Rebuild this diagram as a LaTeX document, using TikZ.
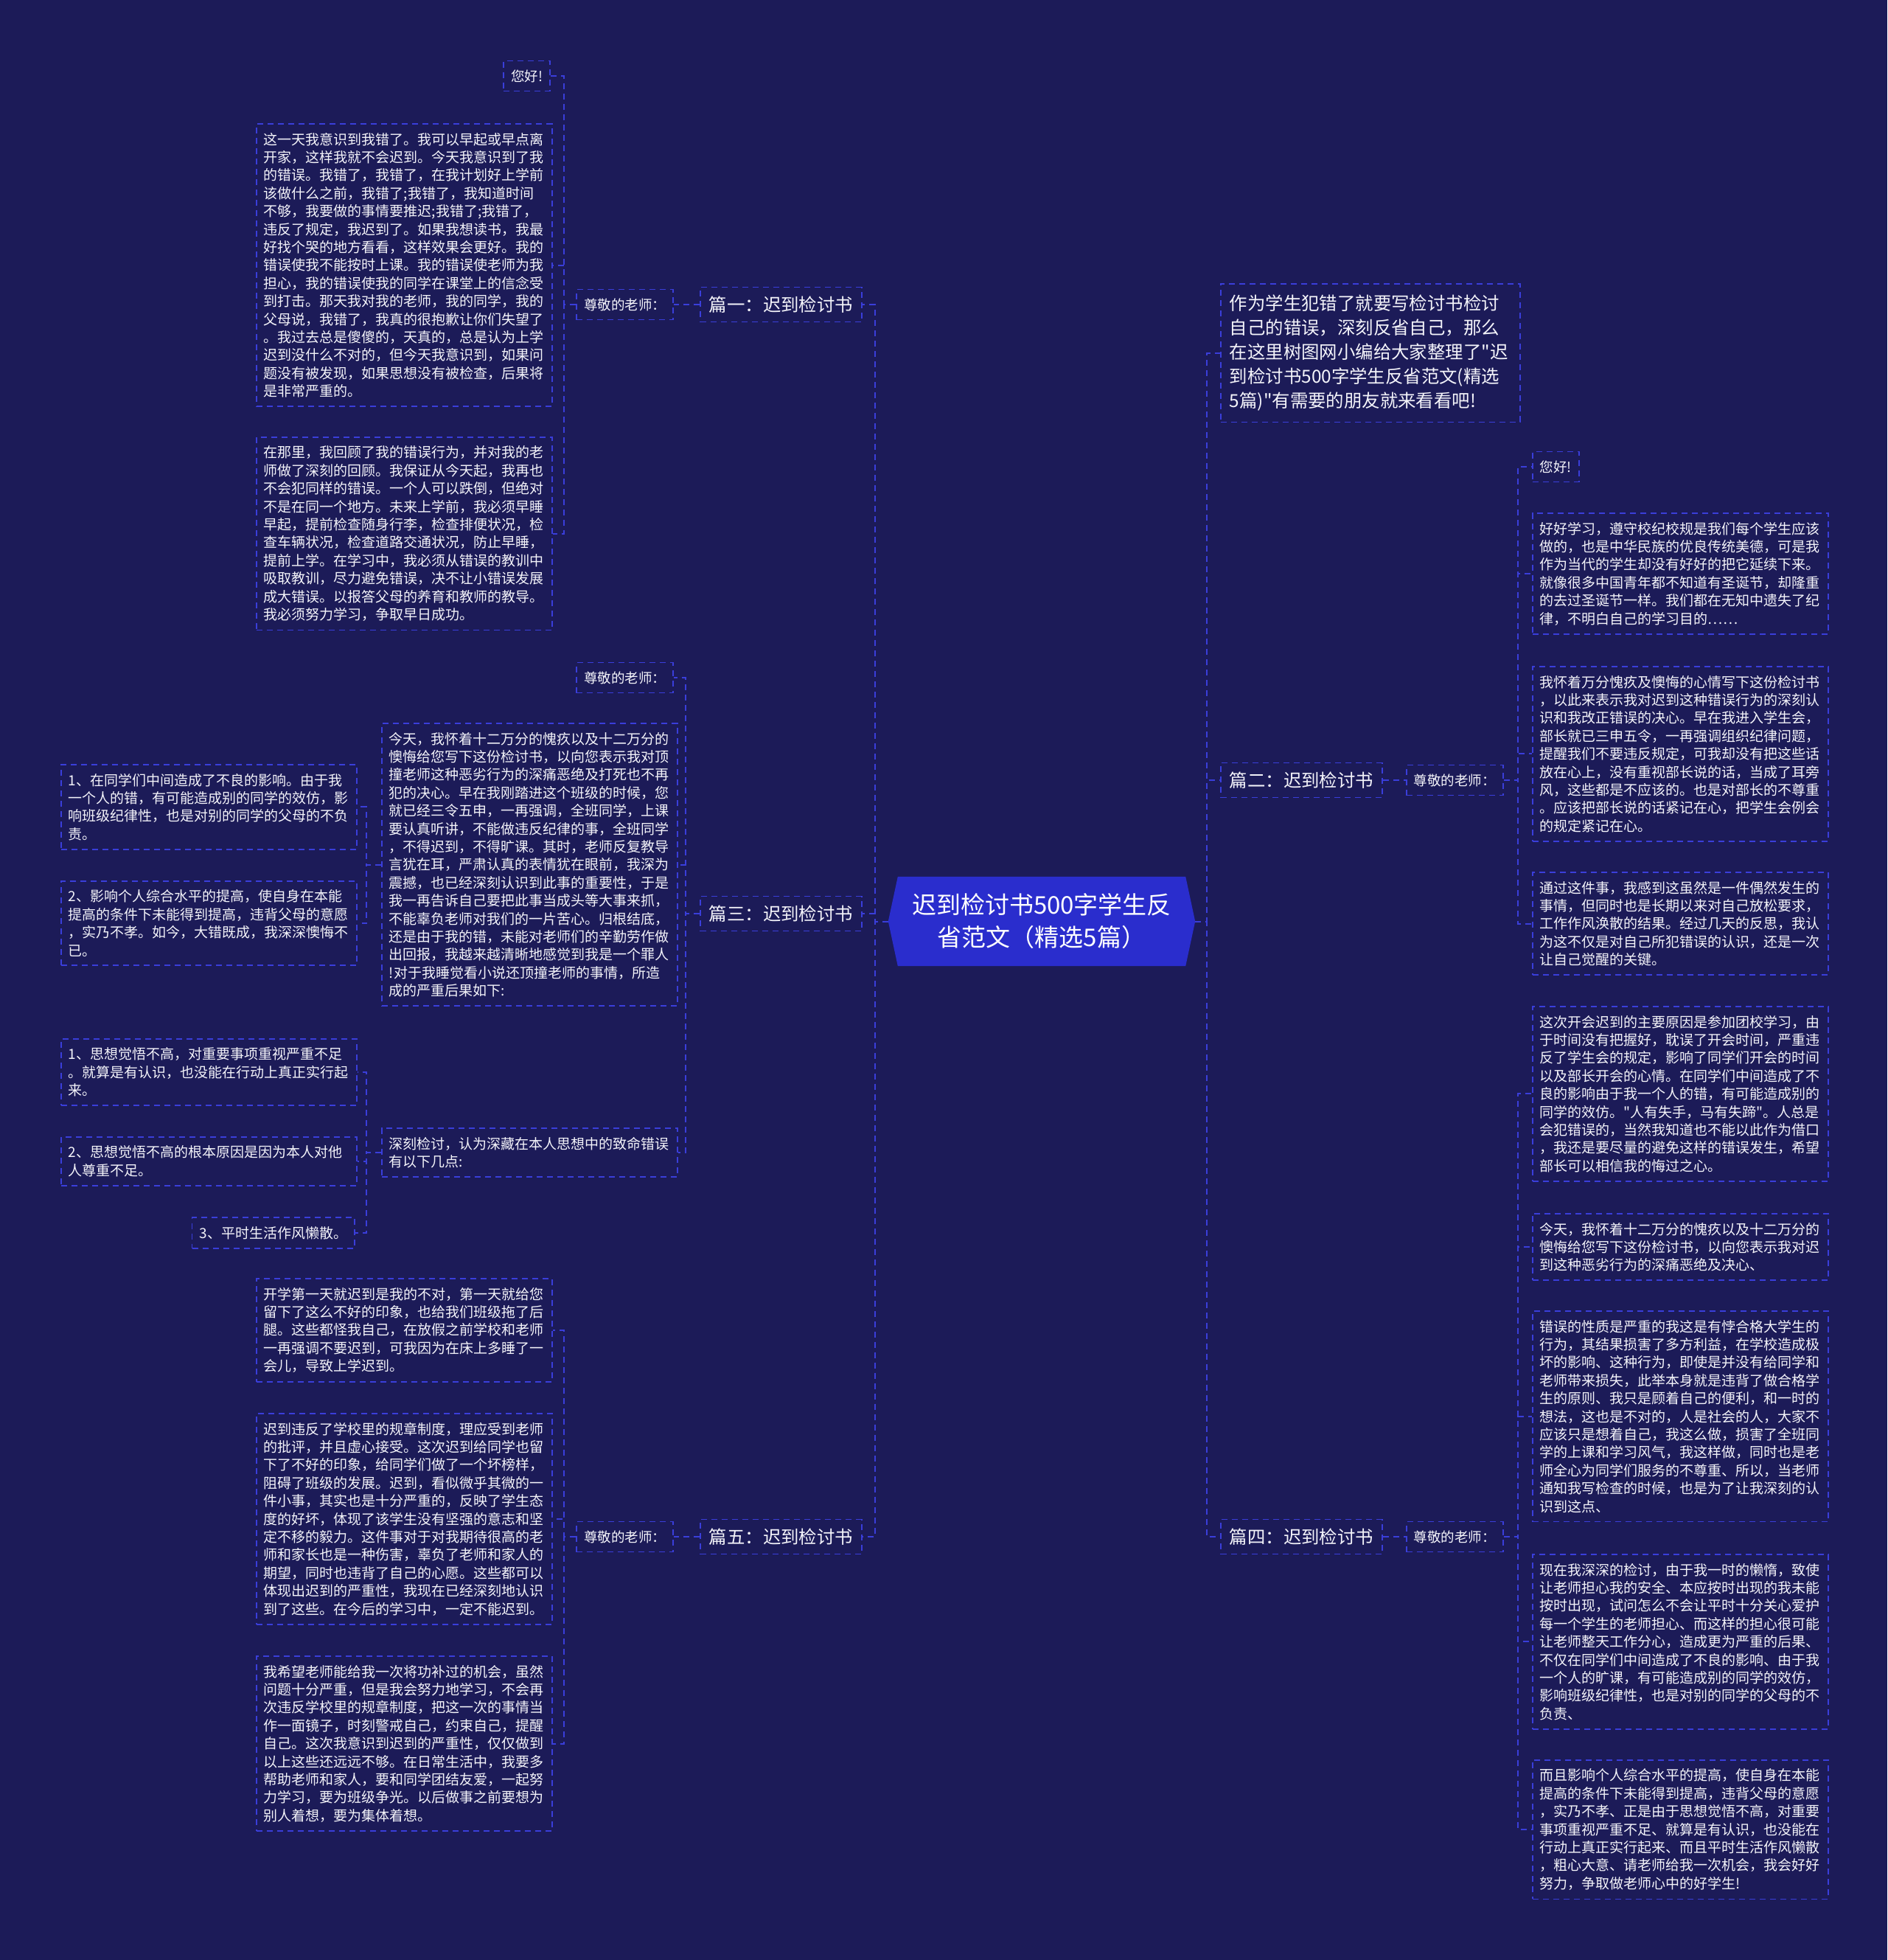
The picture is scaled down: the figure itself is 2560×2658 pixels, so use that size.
\documentclass[tikz,border=0pt]{standalone}
\usepackage{fontspec}
\newfontfamily\cjk{Noto Sans CJK SC}
\definecolor{bgc}{RGB}{28,27,88}
\definecolor{lb}{RGB}{58,62,218}
\definecolor{tx}{RGB}{244,244,250}
\definecolor{hexc}{RGB}{42,45,205}
\pgfdeclarelayer{back}
\pgfsetlayers{back,main}
\tikzset{
 conn/.style={draw=lb, line width=2pt, dash pattern=on 8pt off 6pt},
 box/.style={draw=lb, line width=1.8pt, dash pattern=on 8pt off 6pt, text=tx},
 para/.style={box, font=\cjk\fontsize{19pt}{24.4pt}\selectfont, text width=381pt, align=left, inner xsep=10pt, inner ysep=12pt, anchor=north west},
 lab/.style={box, font=\cjk\fontsize{18.5pt}{22pt}\selectfont, inner xsep=10pt, minimum height=41pt},
 lvl/.style={box, font=\cjk\fontsize{24.4pt}{30pt}\selectfont, minimum width=219pt, minimum height=47pt, inner xsep=12pt},
 intro/.style={box, font=\cjk\fontsize{24.4pt}{33pt}\selectfont, text width=382pt, align=left, inner xsep=12pt, inner ysep=15pt, anchor=north west},
 hub/.style={text=white, font=\cjk\fontsize{33pt}{44pt}\selectfont, align=center, minimum width=416pt, minimum height=121pt, inner sep=0pt},
}
\begin{document}
\begin{tikzpicture}[x=1pt,y=-1pt]
\begin{pgfonlayer}{back}
\fill[bgc] (0,0) rectangle (2560,2658);
\end{pgfonlayer}
\useasboundingbox (0,0) rectangle (2560,2658);

% centre
\node[hub] (c) at (1413,1249.5) {迟到检讨书500字学生反\\省范文（精选5篇）};
\begin{pgfonlayer}{back}
\fill[hexc] (c.west) -- ([xshift=13pt]c.north west) -- ([xshift=-13pt]c.north east) -- (c.east) -- ([xshift=-13pt]c.south east) -- ([xshift=13pt]c.south west) -- cycle;
\end{pgfonlayer}

% level 1
\node[lvl, anchor=east] (p1) at (1170,413) {篇一：迟到检讨书};
\node[lvl, anchor=east] (p3) at (1170,1239) {篇三：迟到检讨书};
\node[lvl, anchor=east] (p5) at (1170,2084) {篇五：迟到检讨书};
\node[lvl, anchor=west] (p2) at (1655,1058) {篇二：迟到检讨书};
\node[lvl, anchor=west] (p4) at (1655,2084) {篇四：迟到检讨书};
\node[intro] (in) at (1655,384) {作为学生犯错了就要写检讨书检讨\\自己的错误，深刻反省自己，那么\\在这里树图网小编给大家整理了"迟\\到检讨书500字学生反省范文(精选\\5篇)"有需要的朋友就来看看吧!};

% level 2 labels
\node[lab, anchor=east] (t1) at (914,413) {尊敬的老师：};
\node[lab, anchor=east] (t3) at (914,919) {尊敬的老师：};
\node[lab, anchor=east] (t5) at (914,2084) {尊敬的老师：};
\node[lab, anchor=west] (t2) at (1907,1058) {尊敬的老师：};
\node[lab, anchor=west] (t4) at (1907,2084) {尊敬的老师：};

% 篇一 children
\node[lab, anchor=east] (a1) at (747,103) {您好!};
\node[para] (a2) at (347,167) {这一天我意识到我错了。我可以早起或早点离\\开家，这样我就不会迟到。今天我意识到了我\\的错误。我错了，我错了，在我计划好上学前\\该做什么之前，我错了;我错了，我知道时间\\不够，我要做的事情要推迟;我错了;我错了，\\违反了规定，我迟到了。如果我想读书，我最\\好找个哭的地方看看，这样效果会更好。我的\\错误使我不能按时上课。我的错误使老师为我\\担心，我的错误使我的同学在课堂上的信念受\\到打击。那天我对我的老师，我的同学，我的\\父母说，我错了，我真的很抱歉让你们失望了\\。我过去总是傻傻的，天真的，总是认为上学\\迟到没什么不对的，但今天我意识到，如果问\\题没有被发现，如果思想没有被检查，后果将\\是非常严重的。};
\node[para] (a3) at (347,592) {在那里，我回顾了我的错误行为，并对我的老\\师做了深刻的回顾。我保证从今天起，我再也\\不会犯同样的错误。一个人可以跌倒，但绝对\\不是在同一个地方。未来上学前，我必须早睡\\早起，提前检查随身行李，检查排便状况，检\\查车辆状况，检查道路交通状况，防止早睡，\\提前上学。在学习中，我必须从错误的教训中\\吸取教训，尽力避免错误，决不让小错误发展\\成大错误。以报答父母的养育和教师的教导。\\我必须努力学习，争取早日成功。};

% 篇三 children
\node[para] (bp) at (517,980) {今天，我怀着十二万分的愧疚以及十二万分的\\懊悔给您写下这份检讨书，以向您表示我对顶\\撞老师这种恶劣行为的深痛恶绝及打死也不再\\犯的决心。早在我刚踏进这个班级的时候，您\\就已经三令五申，一再强调，全班同学，上课\\要认真听讲，不能做违反纪律的事，全班同学\\，不得迟到，不得旷课。其时，老师反复教导\\言犹在耳，严肃认真的表情犹在眼前，我深为\\震撼，也已经深刻认识到此事的重要性，于是\\我一再告诉自己要把此事当成头等大事来抓，\\不能辜负老师对我们的一片苦心。归根结底，\\还是由于我的错，未能对老师们的辛勤劳作做\\出回报，我越来越清晰地感觉到我是一个罪人\\!对于我睡觉看小说还顶撞老师的事情，所造\\成的严重后果如下:};
\node[para] (bd) at (517,1529) {深刻检讨，认为深藏在本人思想中的致命错误\\有以下几点:};
\node[para] (b1) at (82,1036) {1、在同学们中间造成了不良的影响。由于我\\一个人的错，有可能造成别的同学的效仿，影\\响班级纪律性，也是对别的同学的父母的不负\\责。};
\node[para] (b2) at (82,1194) {2、影响个人综合水平的提高，使自身在本能\\提高的条件下未能得到提高，违背父母的意愿\\，实乃不孝。如今，大错既成，我深深懊悔不\\已。};
\node[para] (b3) at (82,1408) {1、思想觉悟不高，对重要事项重视严重不足\\。就算是有认识，也没能在行动上真正实行起\\来。};
\node[para] (b4) at (82,1541) {2、思想觉悟不高的根本原因是因为本人对他\\人尊重不足。};
\node[para, text width=, anchor=east] (b5) at (482,1672) {3、平时生活作风懒散。};

% 篇五 children
\node[para] (e1) at (347,1733) {开学第一天就迟到是我的不对，第一天就给您\\留下了这么不好的印象，也给我们班级拖了后\\腿。这些都怪我自己，在放假之前学校和老师\\一再强调不要迟到，可我因为在床上多睡了一\\会儿，导致上学迟到。};
\node[para] (e2) at (347,1916) {迟到违反了学校里的规章制度，理应受到老师\\的批评，并且虚心接受。这次迟到给同学也留\\下了不好的印象，给同学们做了一个坏榜样，\\阻碍了班级的发展。迟到，看似微乎其微的一\\件小事，其实也是十分严重的，反映了学生态\\度的好坏，体现了该学生没有坚强的意志和坚\\定不移的毅力。这件事对于对我期待很高的老\\师和家长也是一种伤害，辜负了老师和家人的\\期望，同时也违背了自己的心愿。这些都可以\\体现出迟到的严重性，我现在已经深刻地认识\\到了这些。在今后的学习中，一定不能迟到。};
\node[para] (e3) at (347,2245) {我希望老师能给我一次将功补过的机会，虽然\\问题十分严重，但是我会努力地学习，不会再\\次违反学校里的规章制度，把这一次的事情当\\作一面镜子，时刻警戒自己，约束自己，提醒\\自己。这次我意识到迟到的严重性，仅仅做到\\以上这些还远远不够。在日常生活中，我要多\\帮助老师和家人，要和同学团结友爱，一起努\\力学习，要为班级争光。以后做事之前要想为\\别人着想，要为集体着想。};

% 篇二 children
\node[lab, anchor=west] (r0) at (2078,633) {您好!};
\node[para] (r1) at (2078,695) {好好学习，遵守校纪校规是我们每个学生应该\\做的，也是中华民族的优良传统美德，可是我\\作为当代的学生却没有好好的把它延续下来。\\就像很多中国青年都不知道有圣诞节，却隆重\\的去过圣诞节一样。我们都在无知中遗失了纪\\律，不明白自己的学习目的……};
\node[para] (r2) at (2078,903) {我怀着万分愧疚及懊悔的心情写下这份检讨书\\，以此来表示我对迟到这种错误行为的深刻认\\识和我改正错误的决心。早在我进入学生会，\\部长就已三申五令，一再强调组织纪律问题，\\提醒我们不要违反规定，可我却没有把这些话\\放在心上，没有重视部长说的话，当成了耳旁\\风，这些都是不应该的。也是对部长的不尊重\\。应该把部长说的话紧记在心，把学生会例会\\的规定紧记在心。};
\node[para] (r3) at (2078,1182) {通过这件事，我感到这虽然是一件偶然发生的\\事情，但同时也是长期以来对自己放松要求，\\工作作风涣散的结果。经过几天的反思，我认\\为这不仅是对自己所犯错误的认识，还是一次\\让自己觉醒的关键。};

% 篇四 children
\node[para] (s1) at (2078,1364) {这次开会迟到的主要原因是参加团校学习，由\\于时间没有把握好，耽误了开会时间，严重违\\反了学生会的规定，影响了同学们开会的时间\\以及部长开会的心情。在同学们中间造成了不\\良的影响由于我一个人的错，有可能造成别的\\同学的效仿。"人有失手，马有失蹄"。人总是\\会犯错误的，当然我知道也不能以此作为借口\\，我还是要尽量的避免这样的错误发生，希望\\部长可以相信我的悔过之心。};
\node[para] (s2) at (2078,1645) {今天，我怀着十二万分的愧疚以及十二万分的\\懊悔给您写下这份检讨书，以向您表示我对迟\\到这种恶劣行为的深痛恶绝及决心、};
\node[para] (s3) at (2078,1777) {错误的性质是严重的我这是有悖合格大学生的\\行为，其结果损害了多方利益，在学校造成极\\坏的影响、这种行为，即使是并没有给同学和\\老师带来损失，此举本身就是违背了做合格学\\生的原则、我只是顾着自己的便利，和一时的\\想法，这也是不对的，人是社会的人，大家不\\应该只是想着自己，我这么做，损害了全班同\\学的上课和学习风气，我这样做，同时也是老\\师全心为同学们服务的不尊重、所以，当老师\\通知我写检查的时候，也是为了让我深刻的认\\识到这点、};
\node[para] (s4) at (2078,2107) {现在我深深的检讨，由于我一时的懒惰，致使\\让老师担心我的安全、本应按时出现的我未能\\按时出现，试问怎么不会让平时十分关心爱护\\每一个学生的老师担心、而这样的担心很可能\\让老师整天工作分心，造成更为严重的后果、\\不仅在同学们中间造成了不良的影响、由于我\\一个人的旷课，有可能造成别的同学的效仿，\\影响班级纪律性，也是对别的同学的父母的不\\负责、};
\node[para] (s5) at (2078,2386) {而且影响个人综合水平的提高，使自身在本能\\提高的条件下未能得到提高，违背父母的意愿\\，实乃不孝、正是由于思想觉悟不高，对重要\\事项重视严重不足、就算是有认识，也没能在\\行动上真正实行起来、而且平时生活作风懒散\\，粗心大意、请老师给我一次机会，我会好好\\努力，争取做老师心中的好学生!};

% connectors: centre
\foreach \n in {p1,p3,p5} \draw[conn] (c.west) -- ++(-18,0) |- (\n.east);
\foreach \n in {in,p2,p4} \draw[conn] (c.east) -- ++(16,0) |- (\n.west);
% level 1 -> level 2
\draw[conn] (p1.west) -- (t1.east);
\draw[conn] (p5.west) -- (t5.east);
\draw[conn] (p2.east) -- (t2.west);
\draw[conn] (p4.east) -- (t4.west);
\foreach \n in {t3,bp,bd} \draw[conn] (p3.west) -- ++(-19,0) |- (\n.east);
% deeper
\foreach \n in {a1,a2,a3} \draw[conn] (t1.west) -- ++(-16,0) |- (\n.east);
\foreach \n in {e1,e2,e3} \draw[conn] (t5.west) -- ++(-16,0) |- (\n.east);
\foreach \n in {b1,b2} \draw[conn] (bp.west) -- ++(-20,0) |- (\n.east);
\foreach \n in {b3,b4,b5} \draw[conn] (bd.west) -- ++(-20,0) |- (\n.east);
\foreach \n in {r0,r1,r2,r3} \draw[conn] (t2.east) -- ++(19,0) |- (\n.west);
\foreach \n in {s1,s2,s3,s4,s5} \draw[conn] (t4.east) -- ++(19,0) |- (\n.west);
\end{tikzpicture}
\end{document}
